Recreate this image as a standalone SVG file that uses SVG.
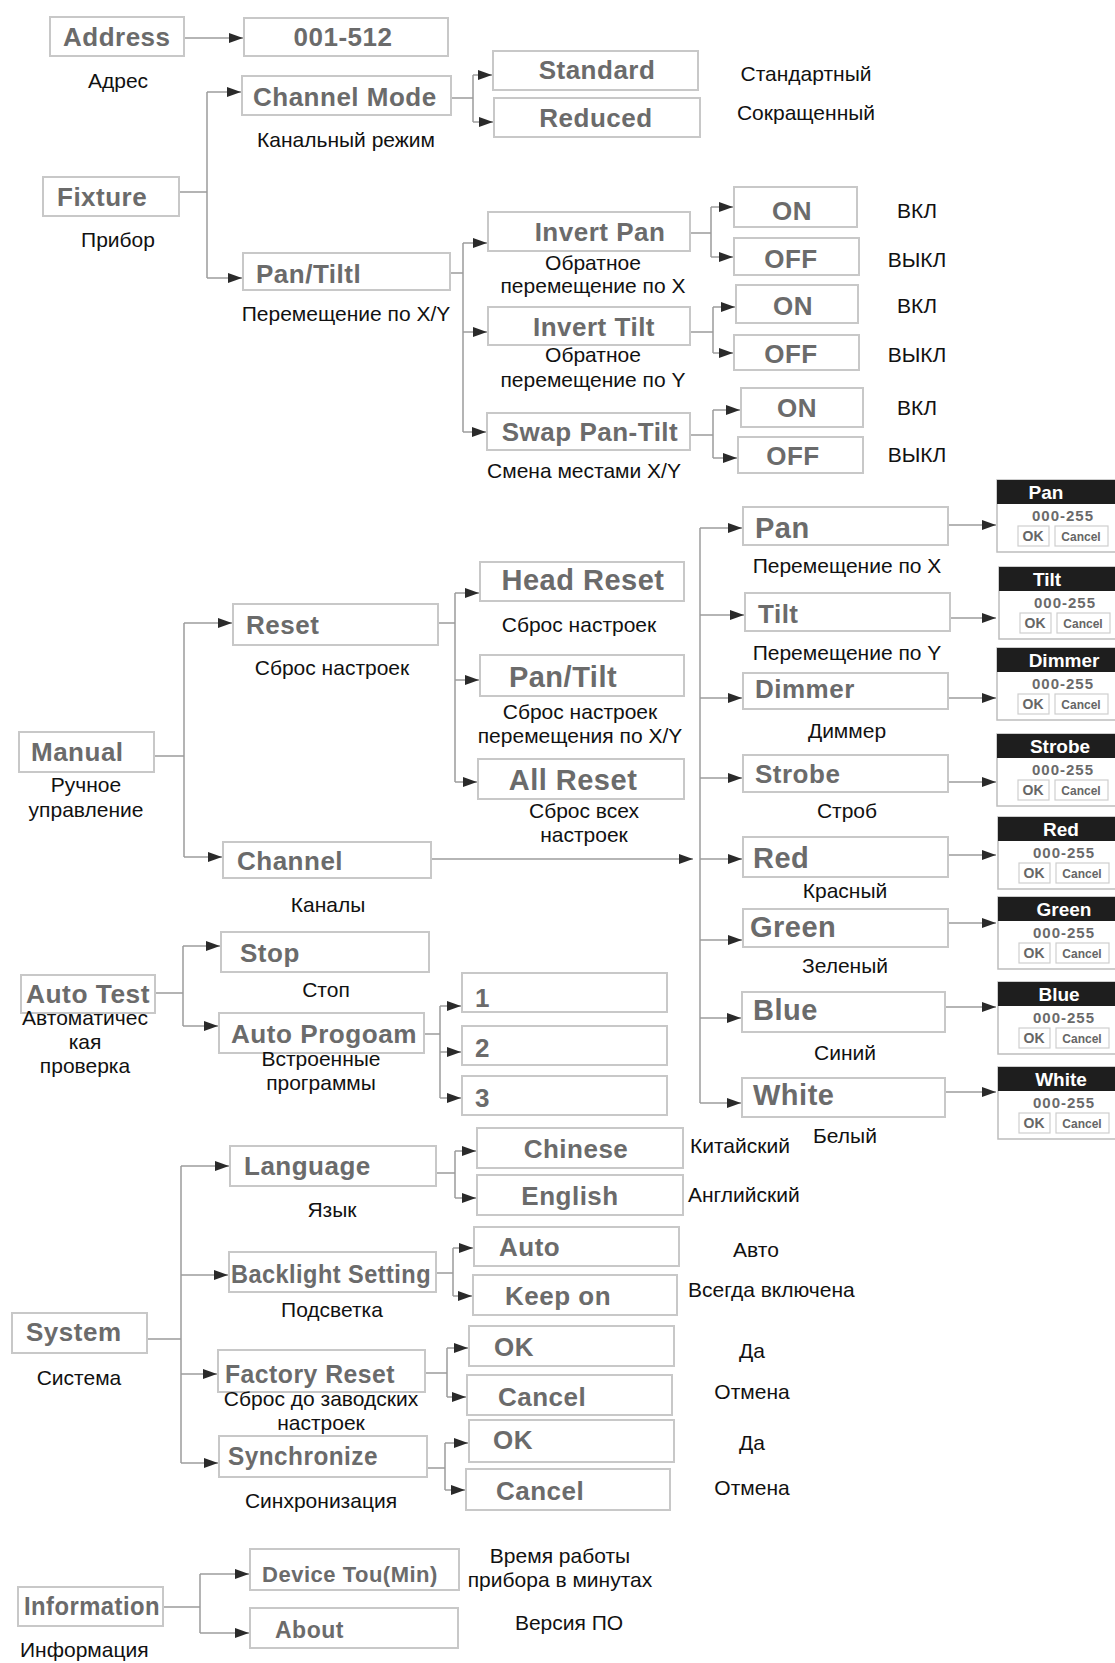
<svg xmlns="http://www.w3.org/2000/svg" width="1115" height="1663" viewBox="0 0 1115 1663">
<defs>
<style>
.bx{fill:#fff;stroke:#c8c8c8;stroke-width:2}
.t{font-family:"Liberation Sans",Arial,sans-serif;font-size:26px;font-weight:bold;fill:#6b6b6b;letter-spacing:0.5px}
.big{font-size:29px}
.r{font-family:"Liberation Sans",Arial,sans-serif;font-size:21px;fill:#111}
.m{text-anchor:middle}
.c{stroke:#9c9c9c;stroke-width:1.5;fill:none}
.a{stroke:#9c9c9c;stroke-width:1.5;fill:none;marker-end:url(#arr)}
.ph{fill:#1e1e1e}
.pb{fill:#fff;stroke:#bdbdbd;stroke-width:1.5}
.pt{font-family:"Liberation Sans",Arial,sans-serif;font-size:19px;font-weight:bold;fill:#fff;text-anchor:middle}
.pv{font-family:"Liberation Sans",Arial,sans-serif;font-size:15px;font-weight:bold;fill:#6a6a6a;text-anchor:middle;letter-spacing:1px}
.pk{fill:#fff;stroke:#cfcfcf;stroke-width:1.2}
.po{font-family:"Liberation Sans",Arial,sans-serif;font-size:14px;font-weight:bold;fill:#666;text-anchor:middle}
.pc{font-family:"Liberation Sans",Arial,sans-serif;font-size:12px;font-weight:bold;fill:#666;text-anchor:middle}
</style>
<marker id="arr" markerWidth="14" markerHeight="10" refX="14" refY="5" orient="auto" markerUnits="userSpaceOnUse"><path d="M0,0 L14,5 L0,10 z" fill="#2a2a2a"/></marker>
<g id="panel">
<rect class="pb" x="0" y="0" width="125" height="72"/>
<rect class="ph" x="0" y="0" width="125" height="24"/>
<rect class="pk" x="21" y="46" width="31" height="20"/>
<rect class="pk" x="58" y="46" width="53" height="20"/>
<text class="pv" x="66" y="41">000-255</text>
<text class="po" x="36" y="61">OK</text>
<text class="pc" x="84" y="61">Cancel</text>
</g>
</defs>
<rect width="1115" height="1663" fill="#fff"/>

<g id="connectors">
<path class="a" d="M184,38 H243"/>
<path class="c" d="M179,192 H207 M207,92 V278"/>
<path class="a" d="M207,92 H241"/>
<path class="a" d="M207,278 H242"/>
<path class="c" d="M451,98 H473 M473,75 V122"/>
<path class="a" d="M473,75 H492"/>
<path class="a" d="M473,122 H493"/>
<path class="c" d="M450,273 H463 M463,243 V432"/>
<path class="a" d="M463,243 H487"/>
<path class="a" d="M463,332 H487"/>
<path class="a" d="M463,432 H486"/>
<path class="c" d="M690,233 H711 M711,207 V257"/>
<path class="a" d="M711,207 H733"/>
<path class="a" d="M711,257 H733"/>
<path class="c" d="M690,332 H713 M713,307 V353"/>
<path class="a" d="M713,307 H735"/>
<path class="a" d="M713,353 H733"/>
<path class="c" d="M690,435 H713 M713,410 V458"/>
<path class="a" d="M713,410 H740"/>
<path class="a" d="M713,458 H737"/>
<path class="c" d="M154,756 H184 M184,623 V857"/>
<path class="a" d="M184,623 H232"/>
<path class="a" d="M184,857 H222"/>
<path class="c" d="M438,623 H455 M455,593 V782"/>
<path class="a" d="M455,593 H479"/>
<path class="a" d="M455,680 H479"/>
<path class="a" d="M455,782 H477"/>
<path class="a" d="M431,859 H693"/>
<path class="c" d="M700,528 V1103"/>
<path class="a" d="M700,528 H742"/>
<path class="a" d="M700,615 H744"/>
<path class="a" d="M700,698 H742"/>
<path class="a" d="M700,778 H742"/>
<path class="a" d="M700,859 H742"/>
<path class="a" d="M700,940 H742"/>
<path class="a" d="M700,1018 H741"/>
<path class="a" d="M700,1103 H741"/>
<path class="a" d="M948,525 H996"/>
<path class="a" d="M950,618 H996"/>
<path class="a" d="M948,698 H996"/>
<path class="a" d="M948,782 H996"/>
<path class="a" d="M948,855 H996"/>
<path class="a" d="M948,923 H996"/>
<path class="a" d="M945,1007 H996"/>
<path class="a" d="M945,1092 H996"/>
<path class="c" d="M155,993 H183 M183,946 V1026"/>
<path class="a" d="M183,946 H220"/>
<path class="a" d="M183,1026 H218"/>
<path class="c" d="M424,1034 H440 M440,1006 V1098"/>
<path class="a" d="M440,1006 H461"/>
<path class="a" d="M440,1052 H461"/>
<path class="a" d="M440,1098 H461"/>
<path class="c" d="M147,1339 H181 M181,1166 V1463"/>
<path class="a" d="M181,1166 H229"/>
<path class="a" d="M181,1275 H228"/>
<path class="a" d="M181,1374 H217"/>
<path class="a" d="M181,1463 H218"/>
<path class="c" d="M436,1173 H455 M455,1151 V1198"/>
<path class="a" d="M455,1151 H476"/>
<path class="a" d="M455,1198 H476"/>
<path class="c" d="M436,1273 H453 M453,1248 V1296"/>
<path class="a" d="M453,1248 H473"/>
<path class="a" d="M453,1296 H472"/>
<path class="c" d="M425,1373 H447 M447,1348 V1397"/>
<path class="a" d="M447,1348 H468"/>
<path class="a" d="M447,1397 H466"/>
<path class="c" d="M427,1468 H445 M445,1443 V1490"/>
<path class="a" d="M445,1443 H468"/>
<path class="a" d="M445,1490 H465"/>
<path class="c" d="M163,1607 H200 M200,1574 V1633"/>
<path class="a" d="M200,1574 H249"/>
<path class="a" d="M200,1633 H249"/>
</g>

<g id="address"><rect class="bx" x="50" y="17" width="134" height="39"/><text class="t" x="63" y="46">Address</text><text class="r m" x="118" y="88">Адрес</text></g>
<g id="address-value"><rect class="bx" x="244" y="18" width="204" height="38"/><text class="t m" x="343" y="46">001-512</text></g>
<g id="fixture"><rect class="bx" x="43" y="177" width="136" height="39"/><text class="t" x="57" y="206">Fixture</text><text class="r m" x="118" y="247">Прибор</text></g>
<g id="channel-mode"><rect class="bx" x="242" y="76" width="209" height="39"/><text class="t" x="253" y="106">Channel Mode</text><text class="r m" x="346" y="147">Канальный режим</text></g>
<g id="standard"><rect class="bx" x="493" y="51" width="205" height="39"/><text class="t m" x="597" y="79">Standard</text><text class="r m" x="806" y="81">Стандартный</text></g>
<g id="reduced"><rect class="bx" x="494" y="98" width="206" height="39"/><text class="t m" x="596" y="127">Reduced</text><text class="r m" x="806" y="120">Сокращенный</text></g>
<g id="pan-tilt"><rect class="bx" x="243" y="253" width="207" height="37"/><text class="t" x="256" y="283">Pan/Tiltl</text><text class="r m" x="346" y="321">Перемещение по X/Y</text></g>
<g id="invert-pan"><rect class="bx" x="488" y="212" width="202" height="39"/><text class="t m" x="600" y="241">Invert Pan</text><text class="r m" x="593" y="270">Обратное</text><text class="r m" x="593" y="293">перемещение по X</text></g>
<g id="invert-pan-on"><rect class="bx" x="734" y="187" width="123" height="40"/><text class="t m" x="792" y="220">ON</text><text class="r m" x="917" y="218">ВКЛ</text></g>
<g id="invert-pan-off"><rect class="bx" x="734" y="238" width="125" height="37"/><text class="t m" x="791" y="268">OFF</text><text class="r m" x="917" y="267">ВЫКЛ</text></g>
<g id="invert-tilt"><rect class="bx" x="488" y="307" width="202" height="38"/><text class="t m" x="594" y="336">Invert Tilt</text><text class="r m" x="593" y="362">Обратное</text><text class="r m" x="593" y="387">перемещение по  Y</text></g>
<g id="invert-tilt-on"><rect class="bx" x="736" y="285" width="122" height="38"/><text class="t m" x="793" y="315">ON</text><text class="r m" x="917" y="313">ВКЛ</text></g>
<g id="invert-tilt-off"><rect class="bx" x="734" y="335" width="125" height="35"/><text class="t m" x="791" y="363">OFF</text><text class="r m" x="917" y="362">ВЫКЛ</text></g>
<g id="swap"><rect class="bx" x="487" y="413" width="203" height="37"/><text class="t m" x="590" y="441">Swap Pan-Tilt</text><text class="r m" x="584" y="478">Смена местами X/Y</text></g>
<g id="swap-on"><rect class="bx" x="741" y="388" width="122" height="39"/><text class="t m" x="797" y="417">ON</text><text class="r m" x="917" y="415">ВКЛ</text></g>
<g id="swap-off"><rect class="bx" x="738" y="437" width="125" height="36"/><text class="t m" x="793" y="465">OFF</text><text class="r m" x="917" y="462">ВЫКЛ</text></g>

<g id="manual"><rect class="bx" x="19" y="732" width="135" height="40"/><text class="t" x="31" y="761">Manual</text><text class="r m" x="86" y="792">Ручное</text><text class="r m" x="86" y="817">управление</text></g>
<g id="reset"><rect class="bx" x="233" y="604" width="205" height="41"/><text class="t" x="246" y="634">Reset</text><text class="r m" x="332" y="675">Сброс настроек</text></g>
<g id="head-reset"><rect class="bx" x="480" y="562" width="204" height="39"/><text class="t big m" x="583" y="590">Head Reset</text><text class="r m" x="579" y="632">Сброс настроек</text></g>
<g id="pantilt-reset"><rect class="bx" x="480" y="655" width="204" height="41"/><text class="t big m" x="563" y="687">Pan/Tilt</text><text class="r m" x="580" y="719">Сброс настроек</text><text class="r m" x="580" y="743">перемещения по X/Y</text></g>
<g id="all-reset"><rect class="bx" x="478" y="759" width="206" height="40"/><text class="t big m" x="573" y="790">All Reset</text><text class="r m" x="584" y="818">Сброс всех</text><text class="r m" x="584" y="842">настроек</text></g>
<g id="channel"><rect class="bx" x="223" y="842" width="208" height="36"/><text class="t" x="237" y="870">Channel</text><text class="r m" x="328" y="912">Каналы</text></g>

<g id="ch-pan"><rect class="bx" x="743" y="507" width="205" height="38"/><text class="t big" x="755" y="538">Pan</text><text class="r m" x="847" y="573">Перемещение по X</text><use href="#panel" x="997" y="480"/><text class="pt" x="1046" y="499">Pan</text></g>
<g id="ch-tilt"><rect class="bx" x="745" y="593" width="205" height="38"/><text class="t" x="758" y="623">Tilt</text><text class="r m" x="847" y="660">Перемещение по  Y</text><use href="#panel" x="999" y="567"/><text class="pt" x="1047" y="586">Tilt</text></g>
<g id="ch-dimmer"><rect class="bx" x="743" y="673" width="205" height="36"/><text class="t" x="755" y="698">Dimmer</text><text class="r m" x="847" y="738">Диммер</text><use href="#panel" x="997" y="648"/><text class="pt" x="1064" y="667">Dimmer</text></g>
<g id="ch-strobe"><rect class="bx" x="743" y="755" width="205" height="37"/><text class="t" x="755" y="783">Strobe</text><text class="r m" x="847" y="818">Строб</text><use href="#panel" x="997" y="734"/><text class="pt" x="1060" y="753">Strobe</text></g>
<g id="ch-red"><rect class="bx" x="743" y="837" width="205" height="40"/><text class="t big" x="753" y="868">Red</text><text class="r m" x="845" y="898">Красный</text><use href="#panel" x="998" y="817"/><text class="pt" x="1061" y="836">Red</text></g>
<g id="ch-green"><rect class="bx" x="743" y="909" width="205" height="38"/><text class="t big" x="750" y="937">Green</text><text class="r m" x="845" y="973">Зеленый</text><use href="#panel" x="998" y="897"/><text class="pt" x="1064" y="916">Green</text></g>
<g id="ch-blue"><rect class="bx" x="742" y="992" width="203" height="40"/><text class="t big" x="753" y="1020">Blue</text><text class="r m" x="845" y="1060">Синий</text><use href="#panel" x="998" y="982"/><text class="pt" x="1059" y="1001">Blue</text></g>
<g id="ch-white"><rect class="bx" x="742" y="1078" width="203" height="39"/><text class="t big" x="753" y="1105">White</text><text class="r m" x="845" y="1143">Белый</text><use href="#panel" x="998" y="1067"/><text class="pt" x="1061" y="1086">White</text></g>

<g id="auto-test"><rect class="bx" x="21" y="975" width="134" height="38"/><text class="t" x="26" y="1003" textLength="124" lengthAdjust="spacingAndGlyphs">Auto Test</text><text class="r m" x="85" y="1025">Автоматичес</text><text class="r m" x="85" y="1049">кая</text><text class="r m" x="85" y="1073">проверка</text></g>
<g id="stop"><rect class="bx" x="221" y="932" width="208" height="40"/><text class="t" x="240" y="962">Stop</text><text class="r m" x="326" y="997">Стоп</text></g>
<g id="auto-program"><rect class="bx" x="219" y="1013" width="205" height="40"/><text class="t" x="231" y="1043" textLength="186" lengthAdjust="spacingAndGlyphs">Auto Progoam</text><text class="r m" x="321" y="1066">Встроенные</text><text class="r m" x="321" y="1090">программы</text></g>
<g id="prog-1"><rect class="bx" x="462" y="973" width="205" height="39"/><text class="t" x="475" y="1007">1</text></g>
<g id="prog-2"><rect class="bx" x="462" y="1026" width="205" height="39"/><text class="t" x="475" y="1057">2</text></g>
<g id="prog-3"><rect class="bx" x="462" y="1076" width="205" height="39"/><text class="t" x="475" y="1107">3</text></g>

<g id="system"><rect class="bx" x="12" y="1313" width="135" height="40"/><text class="t" x="26" y="1341">System</text><text class="r m" x="79" y="1385">Система</text></g>
<g id="language"><rect class="bx" x="230" y="1146" width="206" height="40"/><text class="t" x="244" y="1175">Language</text><text class="r m" x="332" y="1217">Язык</text></g>
<g id="chinese"><rect class="bx" x="477" y="1128" width="206" height="40"/><text class="t m" x="576" y="1158">Chinese</text><text class="r" x="690" y="1153">Китайский</text></g>
<g id="english"><rect class="bx" x="477" y="1175" width="206" height="40"/><text class="t m" x="570" y="1205">English</text><text class="r" x="688" y="1202">Английский</text></g>
<g id="backlight"><rect class="bx" x="229" y="1252" width="207" height="40"/><text class="t" x="231" y="1283" textLength="200" lengthAdjust="spacingAndGlyphs">Backlight Setting</text><text class="r m" x="332" y="1317">Подсветка</text></g>
<g id="backlight-auto"><rect class="bx" x="474" y="1227" width="205" height="39"/><text class="t" x="499" y="1256">Auto</text><text class="r m" x="756" y="1257">Авто</text></g>
<g id="backlight-keep"><rect class="bx" x="473" y="1275" width="204" height="40"/><text class="t" x="505" y="1305">Keep on</text><text class="r" x="688" y="1297">Всегда включена</text></g>
<g id="factory-reset"><rect class="bx" x="218" y="1350" width="207" height="42"/><text class="t" x="225" y="1383" textLength="170" lengthAdjust="spacingAndGlyphs">Factory Reset</text><text class="r m" x="321" y="1406">Сброс до заводских</text><text class="r m" x="321" y="1430">настроек</text></g>
<g id="factory-ok"><rect class="bx" x="469" y="1326" width="205" height="40"/><text class="t" x="494" y="1356">OK</text><text class="r m" x="752" y="1358">Да</text></g>
<g id="factory-cancel"><rect class="bx" x="467" y="1375" width="205" height="40"/><text class="t" x="498" y="1406">Cancel</text><text class="r m" x="752" y="1399">Отмена</text></g>
<g id="synchronize"><rect class="bx" x="219" y="1436" width="208" height="41"/><text class="t" x="228" y="1465" textLength="150" lengthAdjust="spacingAndGlyphs">Synchronize</text><text class="r m" x="321" y="1508">Синхронизация</text></g>
<g id="sync-ok"><rect class="bx" x="469" y="1420" width="205" height="42"/><text class="t" x="493" y="1449">OK</text><text class="r m" x="752" y="1450">Да</text></g>
<g id="sync-cancel"><rect class="bx" x="466" y="1469" width="204" height="41"/><text class="t" x="496" y="1500">Cancel</text><text class="r m" x="752" y="1495">Отмена</text></g>

<g id="information"><rect class="bx" x="18" y="1587" width="145" height="39"/><text class="t" x="24" y="1615" textLength="136" lengthAdjust="spacingAndGlyphs">Information</text><text class="r" x="20" y="1657">Информация</text></g>
<g id="device-time"><rect class="bx" x="250" y="1549" width="209" height="41"/><text class="t m" x="350" y="1582" style="font-size:22px">Device Tou(Min)</text><text class="r m" x="560" y="1563">Время работы</text><text class="r m" x="560" y="1587">прибора в минутах</text></g>
<g id="about"><rect class="bx" x="250" y="1608" width="208" height="40"/><text class="t" x="275" y="1638" style="font-size:23px">About</text><text class="r m" x="569" y="1630">Версия ПО</text></g>
</svg>
